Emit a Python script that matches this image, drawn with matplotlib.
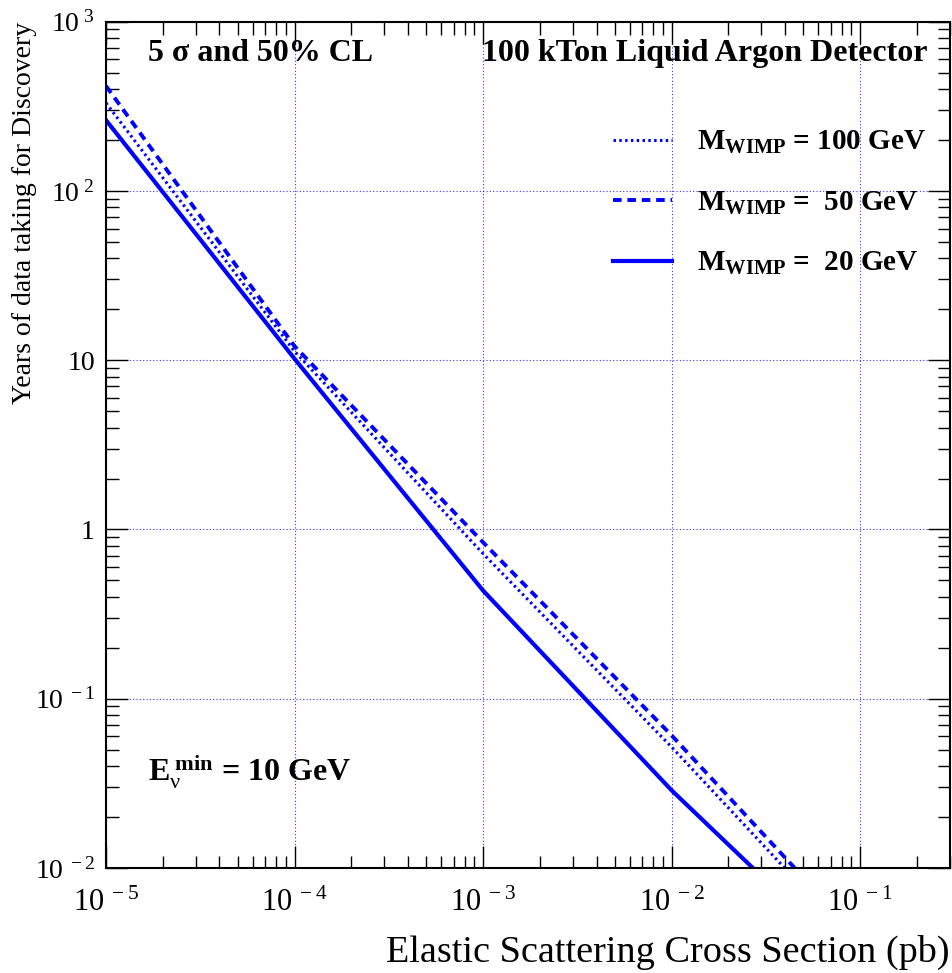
"""Years of data taking needed for discovery vs elastic scattering cross section."""
import math
import matplotlib
matplotlib.use("Agg")
import matplotlib.pyplot as plt
from matplotlib.ticker import FuncFormatter, LogLocator, NullFormatter

plt.rcParams["font.family"] = ["Liberation Serif", "DejaVu Serif"]
plt.rcParams["mathtext.fontset"] = "custom"
plt.rcParams["mathtext.rm"] = "Liberation Serif"
plt.rcParams["mathtext.it"] = "Liberation Serif:italic"
plt.rcParams["mathtext.bf"] = "Liberation Serif:bold"

# cross section (pb) and years
xs_20 = [1e-5, 1e-4, 1e-3, 1e-2, 0.027]
yrs_20 = [262, 10.2, 0.436, 0.0288, 0.010]

xs_50 = [1e-5, 1e-4, 1e-3, 1e-2, 0.045]
yrs_50 = [417, 12.1, 0.84, 0.0608, 0.010]

xs_100 = [1e-5, 1e-4, 1e-3, 1e-2, 0.0398]
yrs_100 = [331, 11.3, 0.72, 0.0519, 0.010]

labels = [r"$\mathbf{M_{WIMP}}$ = 100 GeV",
          r"$\mathbf{M_{WIMP}}$ =  50 GeV",
          r"$\mathbf{M_{WIMP}}$ =  20 GeV"]

W, H = 952, 973
fig = plt.figure(figsize=(W / 100, H / 100), dpi=100)
ax = fig.add_axes([106 / W, 1 - 868 / H, (950 - 106) / W, (868 - 21.7) / H])

blue = "#0000ff"
ax.plot(xs_100, yrs_100, color=blue, lw=2.2, ls=(0, (0.8, 1.1)), label=labels[0])
ax.plot(xs_50, yrs_50, color=blue, lw=2.8, ls=(0, (2.2, 1.5)), label=labels[1])
ax.plot(xs_20, yrs_20, color=blue, lw=3.0, ls="-", label=labels[2])

ax.set_xscale("log")
ax.set_yscale("log")
ax.set_xlim(1e-5, 0.3)
ax.set_ylim(1e-2, 1e3)

ax.grid(which="major", color=blue, ls=(0, (1, 2)), lw=0.8, alpha=0.8)
ax.tick_params(which="both", direction="in", top=True, right=True, width=1.0)
ax.tick_params(which="major", length=16)
ax.tick_params(which="minor", length=9)
ax.xaxis.set_minor_locator(LogLocator(base=10, subs=range(2, 10), numticks=20))
ax.yaxis.set_minor_locator(LogLocator(base=10, subs=range(2, 10), numticks=20))
ax.xaxis.set_minor_formatter(NullFormatter())
ax.yaxis.set_minor_formatter(NullFormatter())
for s in ax.spines.values():
    s.set_linewidth(1.5)


def pow_fmt(v, pos):
    e = int(round(math.log10(v)))
    if e == 0:
        return "1"
    if e == 1:
        return "10"
    return r"$10^{\ %d}$" % e


ax.xaxis.set_major_formatter(FuncFormatter(lambda v, p: r"$10^{\ %d}$" % int(round(math.log10(v)))))
ax.yaxis.set_major_formatter(FuncFormatter(pow_fmt))
ax.tick_params(axis="x", labelsize=22, pad=15)
ax.tick_params(axis="y", labelsize=20, pad=8)

ax.set_xlabel("Elastic Scattering Cross Section (pb)", fontsize=27.5, loc="right", labelpad=12)
ax.set_ylabel("Years of data taking for Discovery", fontsize=20, loc="top",
              va="center")
ax.yaxis.set_label_coords(-0.096, 1.0)

ax.text(0.05, 0.963, "5 σ and 50% CL", transform=ax.transAxes, fontsize=23,
        fontweight="bold", ha="left", va="center")
ax.text(0.973, 0.963, "100 kTon Liquid Argon Detector", transform=ax.transAxes,
        fontsize=23, fontweight="bold", ha="right", va="center")
ax.text(0.05, 0.113, r"$\mathbf{E}_{\mathrm{ν}}^{\ \mathbf{min}}$ = 10 GeV", transform=ax.transAxes,
        fontsize=23, fontweight="bold", ha="left", va="center")

leg = ax.legend(loc="upper left", bbox_to_anchor=((613 - 106) / 844, (868 - 129) / 846),
                frameon=False, prop={"weight": "bold", "size": 21},
                handlelength=2.02, handletextpad=0.86, labelspacing=1.15,
                borderpad=0, borderaxespad=0)

fig.savefig("out.png", dpi=100)
